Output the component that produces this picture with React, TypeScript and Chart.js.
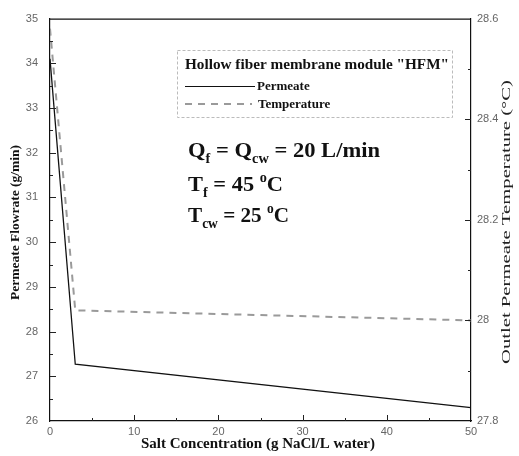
import React, { useEffect, useRef } from "react";
import { Chart, registerables } from "chart.js";

Chart.register(...registerables);

const saltConcentration = [0, 3, 50];
const permeateFlowrate = [34.1, 27.27, 26.3];
const outletTemperature = [28.58, 28.02, 28.0];

const xTitle = "Salt Concentration (g NaCl/L water)";
const yLeftTitle = "Permeate Flowrate (g/min)";
const yRightTitle = "Outlet Permeate Temperature (\u00B0C)";
const legendTitle = 'Hollow fiber membrane module "HFM"';
const seriesNames = ["Permeate", "Temperature"];

type Part = { t: string; sub?: boolean; sup?: boolean };
const annotationLines: Part[][] = [
  [{ t: "Q" }, { t: "f", sub: true }, { t: " = Q" }, { t: "cw", sub: true }, { t: " = 20 L/min" }],
  [{ t: "T" }, { t: "f", sub: true }, { t: " = 45 " }, { t: "o", sup: true }, { t: "C" }],
  [{ t: "T" }, { t: "cw", sub: true }, { t: " = 25 " }, { t: "o", sup: true }, { t: "C" }],
];

const SERIF = '"Liberation Serif", "Times New Roman", serif';
const SANS = '"Liberation Sans", Arial, sans-serif';

function richWidth(ctx: CanvasRenderingContext2D, parts: Part[], size: number) {
  let w = 0;
  for (const p of parts) {
    const s = p.sub || p.sup ? Math.round(size * 0.62) : size;
    ctx.font = `bold ${s}px ${SERIF}`;
    w += ctx.measureText(p.t).width;
  }
  return w;
}

function drawRich(ctx: CanvasRenderingContext2D, x: number, y: number, parts: Part[], size: number, target: number) {
  const w = richWidth(ctx, parts, size);
  const k = target / w;
  ctx.save();
  ctx.translate(x, y);
  ctx.scale(k, 1);
  let cx = 0;
  for (const p of parts) {
    const s = p.sub || p.sup ? Math.round(size * 0.62) : size;
    ctx.font = `bold ${s}px ${SERIF}`;
    const dy = p.sub ? size * 0.28 : p.sup ? -size * 0.42 : 0;
    ctx.fillText(p.t, cx, dy);
    cx += ctx.measureText(p.t).width;
  }
  ctx.restore();
}

function fitText(ctx: CanvasRenderingContext2D, text: string, x: number, y: number, target: number) {
  const w = ctx.measureText(text).width;
  ctx.save();
  ctx.translate(x, y);
  ctx.scale(target / w, 1);
  ctx.fillText(text, 0, 0);
  ctx.restore();
}

const decorPlugin = {
  id: "decor",
  afterDraw(chart: any) {
    const ctx: CanvasRenderingContext2D = chart.ctx;
    const ca = chart.chartArea;
    const xs = chart.scales.x;
    const yl = chart.scales.y;
    const yr = chart.scales.y1;
    ctx.save();
    ctx.strokeStyle = "#111";
    ctx.lineWidth = 1.2;
    ctx.beginPath();
    ctx.moveTo(ca.left, ca.top + 0.5);
    ctx.lineTo(ca.right, ca.top + 0.5);
    ctx.stroke();

    ctx.lineWidth = 1;
    ctx.strokeStyle = "#222";
    const seg = (x1: number, y1: number, x2: number, y2: number) => {
      ctx.beginPath();
      ctx.moveTo(x1, y1);
      ctx.lineTo(x2, y2);
      ctx.stroke();
    };
    for (let v = 5; v < 50; v += 5) {
      const px = Math.round(xs.getPixelForValue(v)) + 0.5;
      const len = v % 10 === 0 ? 6 : 3;
      seg(px, ca.bottom, px, ca.bottom - len);
    }
    for (let v = 26.5; v < 35; v += 0.5) {
      const py = Math.round(yl.getPixelForValue(v)) + 0.5;
      const len = Math.abs(v - Math.round(v)) < 0.01 ? 6 : 3;
      seg(ca.left, py, ca.left + len, py);
    }
    for (let i = 1; i < 8; i++) {
      const v = 27.8 + i * 0.1;
      const py = Math.round(yr.getPixelForValue(v)) + 0.5;
      const len = i % 2 === 0 ? 6 : 3;
      seg(ca.right, py, ca.right - len, py);
    }

    // legend box
    ctx.strokeStyle = "#bbb";
    ctx.setLineDash([3, 2]);
    ctx.lineWidth = 1;
    ctx.strokeRect(177.5, 50.5, 275, 67);
    ctx.setLineDash([]);
    ctx.fillStyle = "#111";
    ctx.textBaseline = "alphabetic";
    ctx.textAlign = "left";
    ctx.font = `bold 14px ${SERIF}`;
    fitText(ctx, legendTitle, 185, 69, 264);
    ctx.strokeStyle = "#111";
    ctx.lineWidth = 1.2;
    seg(185, 86.5, 255, 86.5);
    ctx.font = `bold 13px ${SERIF}`;
    ctx.fillText(chart.data.datasets[0].label, 257, 90);
    ctx.strokeStyle = "#9a9a9a";
    ctx.lineWidth = 2;
    ctx.setLineDash([7, 6]);
    seg(185, 104, 252, 104);
    ctx.setLineDash([]);
    ctx.fillText(chart.data.datasets[1].label, 258, 108);

    // annotations
    ctx.fillStyle = "#111";
    const bases = [157, 191, 222];
    const widths = [192, 95, 101];
    annotationLines.forEach((ln, i) => drawRich(ctx, 188, bases[i], ln, 22, widths[i]));

    // axis titles
    ctx.fillStyle = "#111";
    ctx.textAlign = "left";
    ctx.textBaseline = "middle";
    ctx.font = `bold 14px ${SERIF}`;
    fitText(ctx, xTitle, 141, 444, 234);

    ctx.save();
    ctx.translate(16, 300);
    ctx.rotate(-Math.PI / 2);
    ctx.font = `bold 12px ${SERIF}`;
    fitText(ctx, yLeftTitle, 0, 0, 155);
    ctx.restore();

    ctx.save();
    ctx.translate(507, 364);
    ctx.rotate(-Math.PI / 2);
    ctx.font = `13px ${SERIF}`;
    ctx.fillStyle = "#222";
    fitText(ctx, yRightTitle, 0, 0, 284);
    ctx.restore();

    ctx.restore();
  },
};

export default function App() {
  const ref = useRef<HTMLCanvasElement | null>(null);
  useEffect(() => {
    if (!ref.current) return;
    const tickFont = { family: SANS, size: 11 };
    const chart = new Chart(ref.current, {
      type: "line",
      data: {
        datasets: [
          {
            label: seriesNames[0],
            data: saltConcentration.map((x, i) => ({ x, y: permeateFlowrate[i] })),
            borderColor: "#111",
            borderWidth: 1.3,
            pointRadius: 0,
            yAxisID: "y",
            tension: 0,
          },
          {
            label: seriesNames[1],
            data: saltConcentration.map((x, i) => ({ x, y: outletTemperature[i] })),
            borderColor: "#9a9a9a",
            borderWidth: 2,
            borderDash: [7, 6],
            pointRadius: 0,
            yAxisID: "y1",
            tension: 0,
          },
        ],
      },
      options: {
        animation: false,
        responsive: false,
        maintainAspectRatio: false,
        layout: { padding: { top: 17, left: 0, right: 0, bottom: 0 } },
        plugins: { legend: { display: false }, tooltip: { enabled: false } },
        scales: {
          x: {
            type: "linear",
            min: 0,
            max: 50,
            ticks: { stepSize: 10, font: tickFont, color: "#666", padding: 4, maxRotation: 0 },
            grid: { display: false, drawTicks: false },
            border: { display: true, color: "#111", width: 1.2 },
            afterFit: (s: any) => { s.height = 35; },
          },
          y: {
            type: "linear",
            position: "left",
            min: 26,
            max: 35,
            ticks: { stepSize: 1, font: tickFont, color: "#666", padding: 12 },
            grid: { display: false, drawTicks: false },
            border: { display: true, color: "#111", width: 1.2 },
            afterFit: (s: any) => { s.width = 50; },
          },
          y1: {
            type: "linear",
            position: "right",
            min: 27.8,
            max: 28.6,
            ticks: {
              stepSize: 0.2,
              font: tickFont,
              color: "#666",
              padding: 6,
              callback: (v: any) => {
                const n = Number(v);
                return Math.abs(n - 28) < 1e-6 ? "28" : n.toFixed(1);
              },
            },
            grid: { display: false, drawTicks: false },
            border: { display: true, color: "#111", width: 1.2 },
            afterFit: (s: any) => { s.width = 48; },
          },
        },
      },
      plugins: [decorPlugin],
    } as any);
    return () => chart.destroy();
  }, []);
  return (
    <div style={{ position: "fixed", left: 0, top: 0, width: 519, height: 456, background: "#fff" }}>
      <canvas ref={ref} width={519} height={456} style={{ display: "block" }} />
    </div>
  );
}
